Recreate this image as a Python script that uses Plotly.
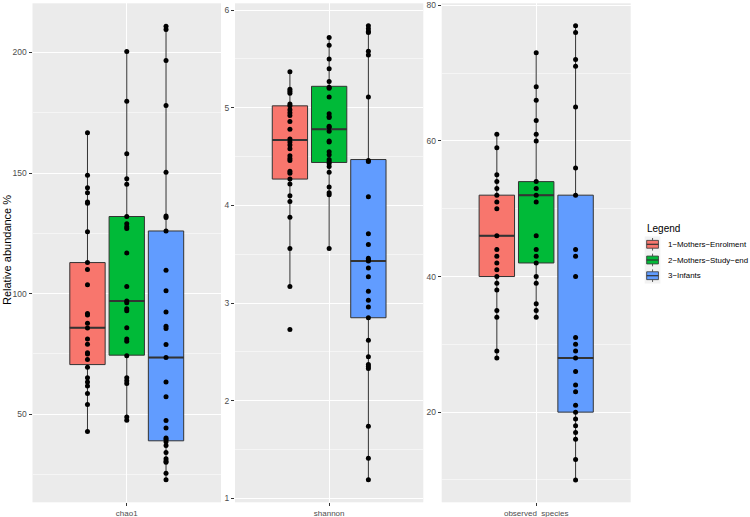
import plotly.graph_objects as go

# ---------------- data ----------------
metrics = ["chao1", "shannon", "observed_species"]
groups = ["1\u2212Mothers\u2212Enrolment", "2\u2212Mothers\u2212Study\u2212end", "3\u2212Infants"]
legend_title = "Legend"
y_title = "Relative abundance %"

chao1_enrol = [166.7, 149.1, 143.9, 141.8, 138.0, 137.5, 125.7, 112.9, 110.0, 103.7, 91.8, 91.2,
               87.7, 85.8, 81.2, 79.0, 75.5, 75.0, 72.7, 69.5, 65.1, 63.4, 61.7, 58.6, 54.0, 42.9]
chao1_end = [200.4, 179.8, 158.0, 147.7, 145.4, 132.0, 129.0, 127.8, 127.0, 116.9, 103.0, 97.0,
             96.2, 93.8, 92.9, 85.9, 81.2, 80.3, 74.3, 65.1, 63.9, 62.8, 48.9, 47.5]
chao1_inf = [210.9, 209.5, 196.7, 178.0, 150.3, 132.2, 131.6, 126.0, 109.7, 101.2, 92.4, 86.5,
             85.6, 78.9, 73.5, 63.4, 57.3, 47.4, 44.3, 40.2, 39.5, 38.6, 37.1, 34.1, 31.6, 30.6,
             30.1, 25.5, 22.9]

shannon_enrol = [5.37, 5.19, 5.17, 5.15, 5.04, 5.02, 4.98, 4.95, 4.92, 4.86, 4.78, 4.68, 4.65,
                 4.62, 4.58, 4.51, 4.48, 4.46, 4.35, 4.33, 4.27, 4.22, 4.10, 4.04, 3.88, 3.56,
                 3.17, 2.73]
shannon_end = [5.72, 5.64, 5.50, 5.40, 5.27, 5.21, 5.20, 5.11, 4.94, 4.91, 4.90, 4.81, 4.80,
               4.76, 4.66, 4.65, 4.55, 4.52, 4.47, 4.45, 4.43, 4.40, 4.34, 4.19, 4.13, 4.11, 3.56]
shannon_inf = [5.84, 5.81, 5.78, 5.77, 5.58, 5.54, 5.11, 4.46, 4.45, 4.09, 3.71, 3.60, 3.46,
               3.44, 3.43, 3.36, 3.27, 3.12, 3.03, 2.96, 2.85, 2.62, 2.45, 2.37, 2.35, 2.33,
               1.74, 1.41, 1.19]

obs_enrol = [61, 59, 55, 54, 53, 52, 51, 50, 46, 44, 43, 42, 41, 40, 39, 38, 35, 34, 29, 28]
obs_end = [73, 68, 66, 63, 61, 60, 54, 53, 52, 51, 46, 44, 43, 42, 40, 39, 36, 35, 34]
obs_inf = [77, 76, 72, 71, 65, 56, 52, 44, 43, 40, 31, 30, 29, 28, 26, 24, 23, 21, 20, 19, 18,
           17, 16, 13, 10]

# box statistics (q1, median, q3, lower whisker, upper whisker)
chao1_stats = [[70.6, 85.9, 112.9, 42.9, 166.7],
               [74.5, 97.0, 132.0, 47.5, 200.4],
               [39.0, 73.5, 126.0, 22.9, 210.9]]
shannon_stats = [[4.27, 4.67, 5.02, 3.17, 5.37],
                 [4.44, 4.78, 5.22, 3.56, 5.72],
                 [2.85, 3.43, 4.47, 1.19, 5.84]]
obs_stats = [[40, 46, 52, 28, 61],
             [42, 52, 54, 34, 73],
             [20, 28, 52, 10, 77]]

values = {"chao1": [chao1_enrol, chao1_end, chao1_inf],
          "shannon": [shannon_enrol, shannon_end, shannon_inf],
          "observed_species": [obs_enrol, obs_end, obs_inf]}
stats = {"chao1": chao1_stats, "shannon": shannon_stats, "observed_species": obs_stats}

y_ticks = {"chao1": [50, 100, 150, 200],
           "shannon": [1, 2, 3, 4, 5, 6],
           "observed_species": [20, 40, 60, 80]}

# ---------------- style ----------------
colors = ["#F8766D", "#00BA38", "#619CFF"]
offsets = [-0.25, 0.0, 0.25]
box_w = 0.225
y_ranges = {"chao1": [13.5, 220.4], "shannon": [0.96, 6.07], "observed_species": [6.7, 80.3]}
minor_dt = {"chao1": 25, "shannon": 0.5, "observed_species": 10}
W, H = 750, 517
x_dom_px = [(32.5, 221), (235, 423.3), (441.7, 630.7)]
y_dom = [1 - 502.3 / H, 1 - 3.3 / H]
FONT = "Liberation Sans, Arial, Helvetica, sans-serif"
EDGE = "#333333"

fig = go.Figure()

for mi, m in enumerate(metrics):
    xa = "x" if mi == 0 else f"x{mi + 1}"
    ya = "y" if mi == 0 else f"y{mi + 1}"
    for gi, g in enumerate(groups):
        q1, med, q3, lf, uf = stats[m][gi]
        xpos = 1 + offsets[gi]
        fig.add_trace(go.Box(
            x=[xpos], q1=[q1], median=[med], q3=[q3], lowerfence=[lf], upperfence=[uf],
            width=box_w, whiskerwidth=0, fillcolor=colors[gi],
            line=dict(color=EDGE, width=1),
            name=g, showlegend=False,
            boxpoints=False, xaxis=xa, yaxis=ya, hoverinfo="skip"))
        # thicker median line as in ggplot
        fig.add_trace(go.Scatter(
            x=[xpos - box_w / 2, xpos + box_w / 2], y=[med, med], mode="lines",
            line=dict(color=EDGE, width=2), showlegend=False,
            xaxis=xa, yaxis=ya, hoverinfo="skip"))
        vals = values[m][gi]
        fig.add_trace(go.Scatter(
            x=[xpos] * len(vals), y=vals, mode="markers",
            marker=dict(color="black", size=5), showlegend=False,
            xaxis=xa, yaxis=ya, hoverinfo="skip"))

# ---------------- manual ggplot-style legend ----------------
def px_x(v):
    return v / W


def px_y(v):
    return 1 - v / H


key_x0, key_size = 644.7, 15.7
row_y = [244.3, 260.0, 275.7]
shapes = []
annotations = [dict(text=legend_title, x=px_x(645), y=px_y(228), xref="paper", yref="paper",
                    showarrow=False, xanchor="left", yanchor="middle",
                    font=dict(size=10, color="black"))]
for gi, g in enumerate(groups):
    cy = row_y[gi]
    k0, k1 = key_x0, key_x0 + key_size
    t0, t1 = cy - key_size / 2, cy + key_size / 2
    cx = (k0 + k1) / 2
    shapes.append(dict(type="rect", xref="paper", yref="paper", x0=px_x(k0), x1=px_x(k1),
                       y0=px_y(t1), y1=px_y(t0), fillcolor="#F2F2F2", line=dict(width=0),
                       layer="above"))
    shapes.append(dict(type="line", xref="paper", yref="paper", x0=px_x(cx), x1=px_x(cx),
                       y0=px_y(t0 + 0.1 * key_size), y1=px_y(t0 + 0.25 * key_size),
                       line=dict(color=EDGE, width=0.8), layer="above"))
    shapes.append(dict(type="line", xref="paper", yref="paper", x0=px_x(cx), x1=px_x(cx),
                       y0=px_y(t0 + 0.75 * key_size), y1=px_y(t0 + 0.9 * key_size),
                       line=dict(color=EDGE, width=0.8), layer="above"))
    shapes.append(dict(type="rect", xref="paper", yref="paper",
                       x0=px_x(k0 + 0.125 * key_size), x1=px_x(k0 + 0.875 * key_size),
                       y0=px_y(t0 + 0.75 * key_size), y1=px_y(t0 + 0.25 * key_size),
                       fillcolor=colors[gi], line=dict(color=EDGE, width=0.8), layer="above"))
    shapes.append(dict(type="line", xref="paper", yref="paper",
                       x0=px_x(k0 + 0.125 * key_size), x1=px_x(k0 + 0.875 * key_size),
                       y0=px_y(cy), y1=px_y(cy), line=dict(color=EDGE, width=1.2),
                       layer="above"))
    annotations.append(dict(text=g, x=px_x(666), y=px_y(cy), xref="paper", yref="paper",
                            showarrow=False, xanchor="left", yanchor="middle",
                            font=dict(size=7.9, color="black")))

annotations.append(dict(text=y_title, x=px_x(7), y=px_y(250), xref="paper", yref="paper",
                        textangle=-90, showarrow=False, font=dict(size=11, color="black"),
                        xanchor="center", yanchor="middle"))

layout = dict(
    width=W, height=H, margin=dict(l=0, r=0, t=0, b=0, pad=0),
    paper_bgcolor="white", plot_bgcolor="#EBEBEB",
    font=dict(family=FONT, color="#4D4D4D", size=9),
    showlegend=False, shapes=shapes, annotations=annotations,
)

for mi, m in enumerate(metrics):
    sfx = "" if mi == 0 else str(mi + 1)
    x0, x1 = x_dom_px[mi]
    layout["xaxis" + sfx] = dict(
        domain=[x0 / W, x1 / W], range=[0.4, 1.6], anchor="y" + sfx,
        tickmode="array", tickvals=[1], ticktext=[m], ticks="outside", ticklen=3,
        tickcolor=EDGE, tickwidth=1, showgrid=True, gridcolor="white", gridwidth=1.1,
        zeroline=False, showline=False, tickfont=dict(size=8, color="#4D4D4D"),
        fixedrange=True, automargin=False)
    layout["yaxis" + sfx] = dict(
        domain=y_dom, range=y_ranges[m], anchor="x" + sfx,
        tickmode="array", tickvals=y_ticks[m], ticks="outside", ticklen=3,
        tickcolor=EDGE, tickwidth=1, showgrid=True, gridcolor="white", gridwidth=1.1,
        minor=dict(dtick=minor_dt[m], tick0=0, showgrid=True, gridcolor="white",
                   gridwidth=0.5, ticks=""),
        zeroline=False, showline=False, tickfont=dict(size=8.5, color="#4D4D4D"),
        fixedrange=True, automargin=False)

fig.update_layout(**layout)
fig.write_html("out.html",
               config=dict(displayModeBar=False, staticPlot=True),
               post_script="document.body.style.margin='0px';"
                           "document.body.style.overflow='hidden';")
